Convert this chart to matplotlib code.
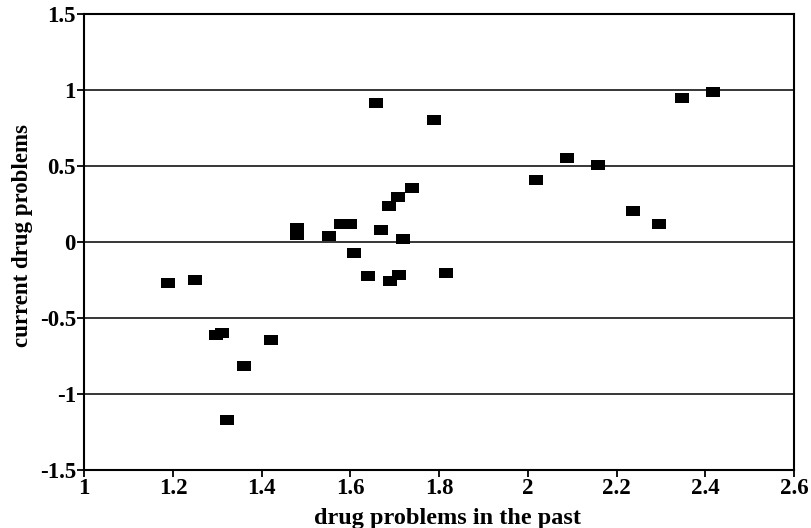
import matplotlib
matplotlib.use("Agg")
import matplotlib.pyplot as plt

# Data
past = [1.189, 1.250, 1.298, 1.310, 1.361, 1.421, 1.322,
        1.480, 1.480, 1.551, 1.578, 1.599, 1.609, 1.640,
        1.658, 1.670, 1.687, 1.689, 1.708, 1.709, 1.718,
        1.739, 1.788, 1.816, 2.018, 2.088, 2.158, 2.236,
        2.296, 2.347, 2.418]
current = [-0.268, -0.250, -0.610, -0.600, -0.816, -0.643, -1.170,
           0.089, 0.049, 0.039, 0.118, 0.118, -0.072, -0.222,
           0.914, 0.077, 0.236, -0.254, 0.294, -0.215, 0.018,
           0.355, 0.805, -0.204, 0.406, 0.555, 0.505, 0.204,
           0.116, 0.945, 0.989]

xticks = [1, 1.2, 1.4, 1.6, 1.8, 2, 2.2, 2.4, 2.6]
xticklabels = ["1", "1.2", "1.4", "1.6", "1.8", "2", "2.2", "2.4", "2.6"]
yticks = [-1.5, -1, -0.5, 0, 0.5, 1, 1.5]
yticklabels = ["-1.5", "-1", "-0.5", "0", "0.5", "1", "1.5"]
grid_y = [-1, -0.5, 0, 0.5, 1]

plt.rcParams['font.family'] = ['Liberation Serif', 'DejaVu Serif']
plt.rcParams['font.weight'] = 'bold'

fig = plt.figure(figsize=(8.12, 5.28), dpi=100)
ax = fig.add_axes([0.1038, 0.1098, 0.8740, 0.8637])

for g in grid_y:
    ax.axhline(g, color='black', lw=1.1, zorder=1)

square = [(-1.3, -1), (1.3, -1), (1.3, 1), (-1.3, 1), (-1.3, -1)]
ax.plot(past, current, linestyle='none', marker=square, markersize=9.6,
        color='black', markeredgewidth=0, zorder=3)

ax.set_xlim(1, 2.6)
ax.set_ylim(-1.5, 1.5)
ax.set_xticks(xticks)
ax.set_xticklabels(xticklabels, fontsize=16.5, fontweight='bold')
ax.set_yticks(yticks)
ax.set_yticklabels(yticklabels, fontsize=16.5, fontweight='bold')
ax.tick_params(direction='out', length=5, width=1.3, pad=1, color='black')

for s in ax.spines.values():
    s.set_linewidth(1.5)
    s.set_color('black')

ax.set_xlabel("drug problems in the past", fontsize=17.5, fontweight='bold')
ax.xaxis.set_label_coords(0.512, -0.084)
ax.set_ylabel("current drug problems", fontsize=16.5, fontweight='bold')
ax.yaxis.set_label_coords(-0.072, 0.515)

fig.savefig("out.png", dpi=100)
